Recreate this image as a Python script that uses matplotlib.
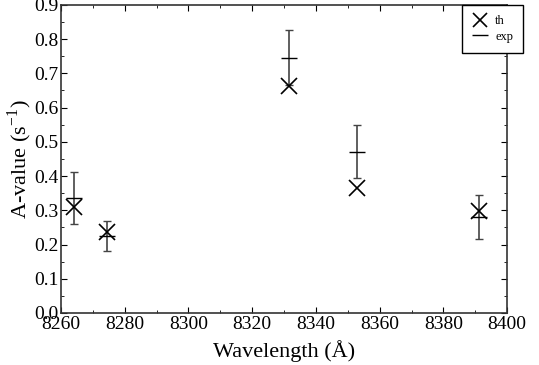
import numpy as np
from matplotlib import pyplot as plt
from matplotlib.ticker import MultipleLocator
from matplotlib.lines import Line2D

plt.rcParams['font.family'] = ['Liberation Serif', 'DejaVu Serif']
plt.rcParams['mathtext.fontset'] = 'stix'

# Data
wavelength = [8264.0, 8274.5, 8331.5, 8353.0, 8391.0]
a_th = [0.31, 0.238, 0.664, 0.366, 0.297]
a_exp = [0.336, 0.225, 0.746, 0.471, 0.28]
a_err = [0.075, 0.043, 0.08, 0.078, 0.065]

fig = plt.figure(figsize=(5.39, 3.65), dpi=100)
ax = fig.add_axes([0.113, 0.1425, 0.828, 0.844])

ax.errorbar(wavelength, a_exp, yerr=a_err, fmt='_', color='black',
            ecolor='#444444', elinewidth=1.2, capsize=3, capthick=1.2,
            markersize=12, markeredgewidth=1.0, zorder=2)
ax.plot(wavelength, a_th, 'x', color='black', markersize=11,
        markeredgewidth=1.2, zorder=3)

ax.set_xlim(8260, 8400)
ax.set_ylim(0.0, 0.9)
ax.xaxis.set_major_locator(MultipleLocator(20))
ax.xaxis.set_minor_locator(MultipleLocator(10))
ax.yaxis.set_major_locator(MultipleLocator(0.1))
ax.yaxis.set_minor_locator(MultipleLocator(0.05))
ax.yaxis.set_major_formatter(plt.FormatStrFormatter('%.1f'))
ax.tick_params(which='both', direction='in', top=True, right=True, labelsize=14, pad=2)
ax.tick_params(which='major', length=4)
ax.tick_params(which='minor', length=2)
for s in ax.spines.values():
    s.set_linewidth(1.2)
    s.set_color('#333333')

ax.set_xlabel('Wavelength (Å)', size=16, labelpad=5)
ax.set_ylabel('A-value (s$^{\\mathregular{-1}}$)', size=16, labelpad=0)

handles = [
    Line2D([], [], ls='none', marker='x', color='black', markersize=10, markeredgewidth=1.2),
    Line2D([], [], ls='none', marker='_', color='black', markersize=11, markeredgewidth=1.0),
]
leg = ax.legend(handles, ['th', 'exp'], loc='upper right',
                bbox_to_anchor=(1.036, 1.0), borderaxespad=0, fontsize=9,
                frameon=True, fancybox=False, edgecolor='black', borderpad=0.8,
                handlelength=1.3, handletextpad=0.6, labelspacing=0.3, framealpha=1)
leg.get_frame().set_linewidth(1.0)

fig.savefig('out.png', dpi=100)
